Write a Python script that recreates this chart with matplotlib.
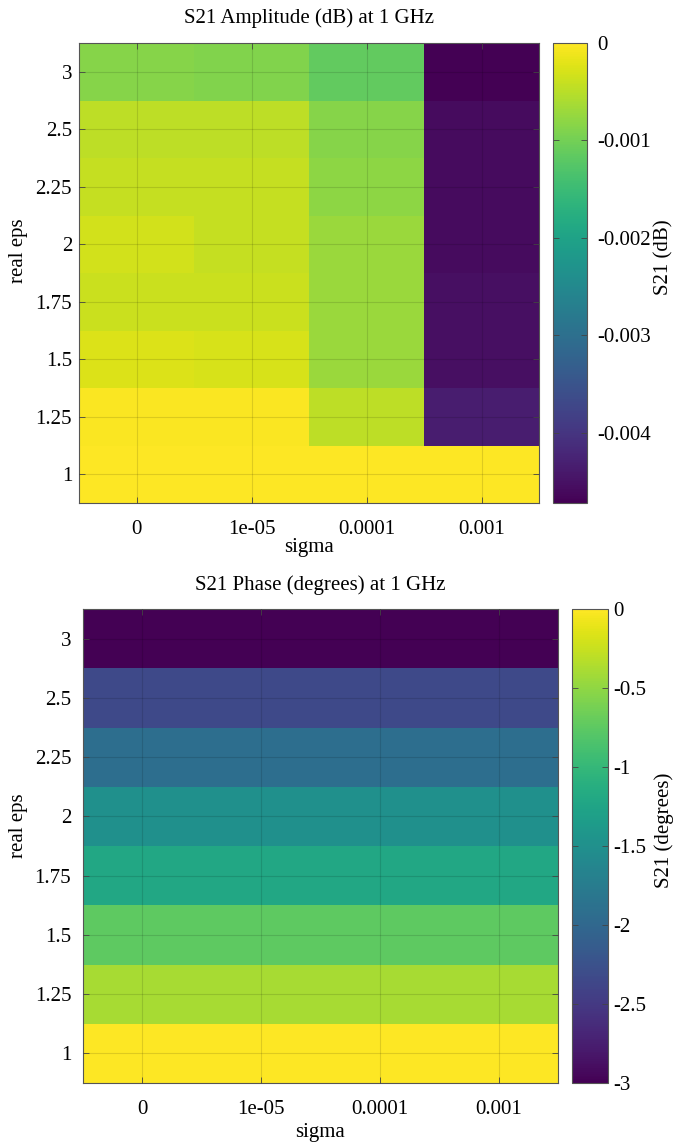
import numpy as np
import matplotlib
matplotlib.use("Agg")
import matplotlib.pyplot as plt

plt.rcParams['font.family'] = ['Liberation Serif', 'DejaVu Serif']
plt.rcParams['axes.unicode_minus'] = False

# ---- data ----
sigma_labels = ['0', '1e-05', '0.0001', '0.001']
eps_labels = ['1', '1.25', '1.5', '1.75', '2', '2.25', '2.5', '3']

# S21 amplitude (dB), rows = eps (1 .. 3), cols = sigma
amp_db = np.array([
    [0.0,       0.0,       0.0,      0.0],
    [-0.00002, -0.00002, -0.00047, -0.00434],
    [-0.00024, -0.00028, -0.00071, -0.00453],
    [-0.00038, -0.00038, -0.00071, -0.00453],
    [-0.00033, -0.00042, -0.00071, -0.00458],
    [-0.00042, -0.00042, -0.00080, -0.00458],
    [-0.00047, -0.00047, -0.00085, -0.00458],
    [-0.00085, -0.00090, -0.00113, -0.00472],
])

# S21 phase (degrees)
phase_deg = np.array([
    [0.0,   0.0,   0.0,   0.0],
    [-0.39, -0.39, -0.39, -0.39],
    [-0.75, -0.75, -0.75, -0.75],
    [-1.20, -1.20, -1.20, -1.20],
    [-1.50, -1.50, -1.50, -1.50],
    [-1.92, -1.92, -1.92, -1.92],
    [-2.34, -2.34, -2.34, -2.34],
    [-3.00, -3.00, -3.00, -3.00],
])

amp_cticks = [0, -0.001, -0.002, -0.003, -0.004]
amp_cticklabels = ['0', '-0.001', '-0.002', '-0.003', '-0.004']
ph_cticks = [0, -0.5, -1, -1.5, -2, -2.5, -3]
ph_cticklabels = ['0', '-0.5', '-1', '-1.5', '-2', '-2.5', '-3']

W, H = 677, 1144
fig = plt.figure(figsize=(W / 100, H / 100), dpi=100)


def px_axes(l, t, r, b):
    return fig.add_axes([l / W, 1 - b / H, (r - l) / W, (b - t) / H])


FS = 15
frame_col = '#555555'


def draw_panel(box, cbox, data, vmin, cticks, ctl, title, title_y, clabel,
               clabel_xy, xlab_y, ylab_xy, ypad, cpad):
    ax = px_axes(*box)
    im = ax.imshow(data, cmap='viridis', vmin=vmin, vmax=0, origin='lower',
                   aspect='auto', interpolation='nearest')
    ax.set_xticks(range(len(sigma_labels)))
    ax.set_xticklabels(sigma_labels, fontsize=FS)
    ax.set_yticks(range(len(eps_labels)))
    ax.set_yticklabels(eps_labels, fontsize=FS)
    ax.tick_params(direction='in', length=4, width=0.6, color='#444444',
                   top=True, right=True)
    ax.tick_params(axis='x', pad=12.5)
    ax.tick_params(axis='y', pad=ypad)
    ax.set_axisbelow(False)
    ax.grid(True, color='#000000', alpha=0.12, linewidth=0.8)
    for s in ax.spines.values():
        s.set_color(frame_col)
        s.set_linewidth(0.8)

    cax = px_axes(*cbox)
    cb = fig.colorbar(im, cax=cax)
    cb.set_ticks(cticks)
    cb.set_ticklabels(ctl)
    cax.tick_params(labelsize=FS, direction='in', length=4, width=0.6,
                    color='#444444', left=True, right=True, pad=cpad)
    cb.outline.set_edgecolor(frame_col)
    cb.outline.set_linewidth(0.8)

    cx = (box[0] + box[2]) / 2
    fig.text(cx / W, 1 - title_y / H, title, fontsize=FS,
             ha='center', va='center')
    fig.text(clabel_xy[0] / W, 1 - clabel_xy[1] / H, clabel, fontsize=FS,
             ha='center', va='center', rotation=90)
    fig.text(cx / W, 1 - xlab_y / H, 'sigma',
             fontsize=FS, ha='center', va='center')
    fig.text(ylab_xy[0] / W, 1 - ylab_xy[1] / H, 'real eps', fontsize=FS,
             ha='center', va='center', rotation=90)


draw_panel((79, 43, 539, 503), (553, 43, 587, 503), amp_db, -0.00472,
           amp_cticks, amp_cticklabels, 'S21 Amplitude (dB) at 1 GHz',
           18, 'S21 (dB)', (664, 257), 548, (18, 251), 5, 7.5)

draw_panel((83, 609, 558, 1083), (572, 609, 608, 1083), phase_deg, -3.0,
           ph_cticks, ph_cticklabels, 'S21 Phase (degrees) at 1 GHz',
           585, 'S21 (degrees)', (664, 830), 1132, (18, 826), 8.5, 3.5)

fig.savefig('out.png', dpi=100)
